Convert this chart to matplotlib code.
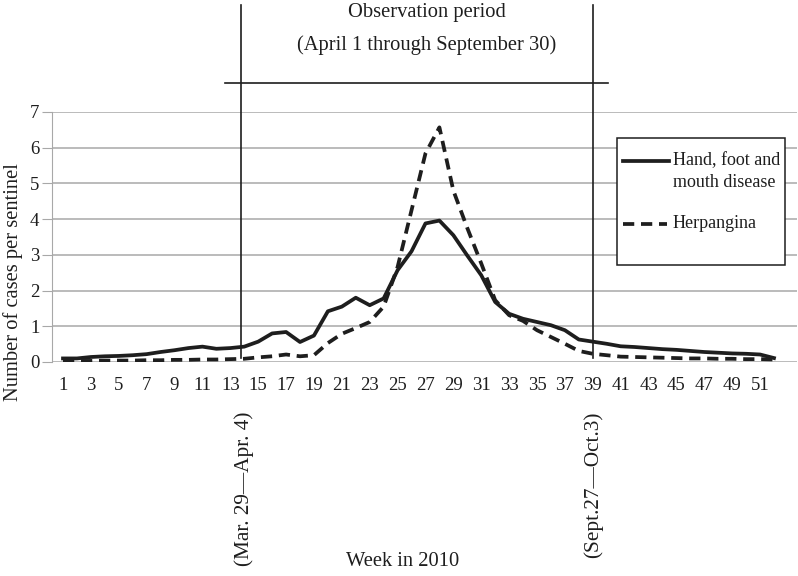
import matplotlib
matplotlib.use("Agg")
import matplotlib.pyplot as plt
import numpy as np

plt.rcParams['font.family'] = ['Liberation Serif', 'DejaVu Serif']

weeks = np.arange(1, 53)
hfmd = [0.10, 0.10, 0.14, 0.16, 0.17, 0.19, 0.22, 0.28, 0.33, 0.39,
        0.43, 0.37, 0.39, 0.43, 0.57, 0.80, 0.84, 0.56, 0.74, 1.42,
        1.55, 1.80, 1.59, 1.78, 2.57, 3.10, 3.88, 3.96, 3.55, 2.98,
        2.43, 1.68, 1.35, 1.21, 1.12, 1.03, 0.89, 0.63, 0.57, 0.51,
        0.44, 0.42, 0.39, 0.36, 0.34, 0.31, 0.28, 0.26, 0.24, 0.23,
        0.21, 0.11]
herpangina = [0.03, 0.03, 0.03, 0.04, 0.04, 0.04, 0.05, 0.05, 0.06, 0.06,
              0.07, 0.07, 0.08, 0.09, 0.13, 0.16, 0.21, 0.16, 0.19, 0.53,
              0.79, 0.95, 1.12, 1.55, 2.66, 4.25, 5.84, 6.57, 4.80, 3.75,
              2.76, 1.73, 1.31, 1.15, 0.89, 0.70, 0.51, 0.31, 0.23, 0.19,
              0.15, 0.14, 0.13, 0.12, 0.11, 0.10, 0.10, 0.09, 0.09, 0.08,
              0.08, 0.07]
tick_weeks = np.arange(1, 52, 2)
period_lines = [13.75, 39]
period_labels = ["(Mar. 29\u2014Apr. 4)", "(Sept.27\u2014Oct.3)"]
label_weeks = [14, 39]

ink = "#1e1e1e"
grid = "#a8a8a8"
fs_tick = 13.5
fs_text = 14.8
fs_leg = 13

fig = plt.figure(figsize=(7.98, 5.76), dpi=100)
ax = fig.add_axes([52 / 798, 1 - 362 / 576, 745 / 798, 250 / 576])

ax.plot(weeks, hfmd, color=ink, lw=2.7, zorder=3)
ax.plot(weeks, herpangina, color=ink, lw=2.7, linestyle=(0, (3, 1.8)), zorder=3)

ax.set_xlim(0.21, 53.65)
ax.set_ylim(0, 7)
ax.set_yticks(range(0, 8))
ax.set_xticks(tick_weeks)
ax.grid(axis="y", color=grid, lw=1.1)
ax.set_axisbelow(True)
for s in ["top", "right", "bottom"]:
    ax.spines[s].set_visible(False)
ax.spines["left"].set_color(grid)
ax.tick_params(axis="y", length=7, color=grid, pad=2, labelsize=fs_tick, labelcolor=ink)
ax.tick_params(axis="x", length=0, pad=11, labelsize=fs_tick, labelcolor=ink)

# observation period bracket
for w in period_lines:
    ax.plot([w, w], [0.1, 9.99], color=ink, lw=1.2, clip_on=False, zorder=4)
ax.plot([12.62, 40.1], [7.81, 7.81], color=ink, lw=1.2, clip_on=False, zorder=4)
ax.text(27.1, 9.8, "Observation period", ha="center", va="center", fontsize=fs_text, color=ink)
ax.text(27.1, 8.87, "(April 1 through September 30)", ha="center", va="center",
        fontsize=fs_text, color=ink)

for w, lab in zip(label_weeks, period_labels):
    ax.text(w, -0.2, lab, rotation=90, ha="center", va="top", fontsize=15.3, color=ink,
            transform=ax.get_xaxis_transform())

fig.text(403 / 798, 1 - 562 / 576, "Week in 2010", ha="center", va="center",
         fontsize=fs_text, color=ink)
fig.text(13 / 798, 1 - 282 / 576, "Number of cases per sentinel", rotation=90,
         ha="center", va="center", fontsize=fs_text, color=ink)

# legend box
def px(x, y):
    return x / 798, 1 - y / 576

box = plt.Rectangle(px(617, 265), 168 / 798, 127 / 576, transform=fig.transFigure,
                    facecolor="white", edgecolor=ink, lw=1.1, zorder=5)
fig.add_artist(box)
x0, y0 = px(623, 161)
x1, _ = px(669, 161)
fig.add_artist(plt.Line2D([x0, x1], [y0, y0], color=ink, lw=2.7, transform=fig.transFigure, zorder=6))
x0, y0 = px(623, 224)
x1, _ = px(667, 224)
fig.add_artist(plt.Line2D([x0, x1], [y0, y0], color=ink, lw=2.7, linestyle=(0, (3, 1.8)),
                          transform=fig.transFigure, zorder=6))
fig.text(*px(673, 161), "Hand, foot and", ha="left", va="center", fontsize=fs_leg, color=ink, zorder=6)
fig.text(*px(673, 183), "mouth disease", ha="left", va="center", fontsize=fs_leg, color=ink, zorder=6)
fig.text(*px(673, 224), "Herpangina", ha="left", va="center", fontsize=fs_leg, color=ink, zorder=6)

fig.savefig("out.png", dpi=100)
